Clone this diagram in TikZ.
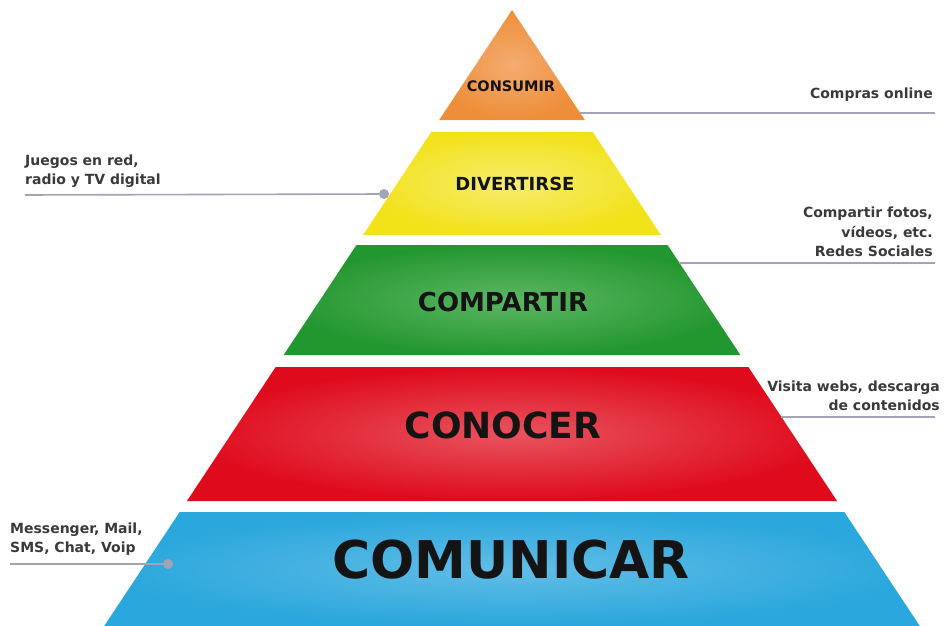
\documentclass[tikz,border=0pt]{standalone}
\usepackage{fontspec}
\setmainfont{DejaVu Sans}
\usetikzlibrary{calc}
\definecolor{cOrange}{HTML}{EE8E3A}
\definecolor{cOrangeL}{HTML}{F4AC70}
\definecolor{cYellow}{HTML}{F2E21A}
\definecolor{cYellowL}{HTML}{F6EC70}
\definecolor{cGreen}{HTML}{23972F}
\definecolor{cGreenL}{HTML}{5DB664}
\definecolor{cRed}{HTML}{DF0A1C}
\definecolor{cRedL}{HTML}{E8545F}
\definecolor{cBlue}{HTML}{2AA7DC}
\definecolor{cBlueL}{HTML}{62BDE6}
\definecolor{cLine}{HTML}{A3A3B6}
\definecolor{cText}{HTML}{3A3A3A}
\tikzset{
  layer/.style 2 args={shading=radial, inner color=#2, outer color=#1, draw=none},
  title/.style={font=\bfseries, text=black!92, inner sep=0pt, anchor=center},
  sidelbl/.style={font=\bfseries\fontsize{14}{19.5}\selectfont, text=cText, inner sep=0pt},
  conn/.style={draw=cLine, line width=1.6pt},
  dotpt/.style={circle, fill=cLine, inner sep=0pt, minimum size=10pt}
}
\newcommand{\hw}[1]{0.662*(#1-10)}
\begin{document}
\begin{tikzpicture}[x=1pt,y=-1pt]
\useasboundingbox (0,0) rectangle (945,626);
% layers
\shade[layer={cOrange}{cOrangeL}] (512,10) -- ({512+\hw{120}},120) -- ({512-\hw{120}},120) -- cycle;
\shade[layer={cYellow}{cYellowL}] ({512-\hw{132}},132) -- ({512+\hw{132}},132) -- ({512+\hw{235}},235) -- ({512-\hw{235}},235) -- cycle;
\shade[layer={cGreen}{cGreenL}] ({512-\hw{245}},245) -- ({512+\hw{245}},245) -- ({512+\hw{355}},355) -- ({512-\hw{355}},355) -- cycle;
\shade[layer={cRed}{cRedL}] ({512-\hw{367}},367) -- ({512+\hw{367}},367) -- ({512+\hw{501}},501) -- ({512-\hw{501}},501) -- cycle;
\shade[layer={cBlue}{cBlueL}] ({512-\hw{512}},512) -- ({512+\hw{512}},512) -- ({512+\hw{626}},626) -- ({512-\hw{626}},626) -- cycle;
% titles
\node[title, font=\bfseries\fontsize{14.5}{16}\selectfont] (consumir) at (511,86) {CONSUMIR};
\node[title, font=\bfseries\fontsize{18}{20}\selectfont] (divertirse) at (515,184) {DIVERTIRSE};
\node[title, font=\bfseries\fontsize{26}{28}\selectfont] (compartir) at (503,302) {COMPARTIR};
\node[title, font=\bfseries\fontsize{36}{38}\selectfont] (conocer) at (503,425) {CONOCER};
\node[title, font=\bfseries\fontsize{52}{54}\selectfont] (comunicar) at (511,560) {COMUNICAR};
% connector endpoints
\coordinate (c1a) at ({512+\hw{113}},113);
\coordinate (c1b) at (935,113);
\coordinate (c2a) at (25,195);
\node[dotpt] (d2) at (384,194) {};
\coordinate (c3a) at ({512+\hw{263}},263);
\coordinate (c3b) at (935,263);
\coordinate (c4a) at ({512+\hw{417}},417);
\coordinate (c4b) at (935,417);
\coordinate (c5a) at (10,564);
\node[dotpt] (d5) at (168,564) {};
\draw[conn] (c1a) -- (c1b);
\draw[conn] (c2a) -- (d2);
\draw[conn] (c3a) -- (c3b);
\draw[conn] (c4a) -- (c4b);
\draw[conn] (c5a) -- (d5);
% side labels
\node[sidelbl, anchor=base east] (l1) at (933,99) {Compras online};
\node[sidelbl, anchor=south west, align=left] (l2) at (25,188) {Juegos en red,\\radio y TV digital};
\node[sidelbl, anchor=south east, align=right] (l3) at (933,257) {Compartir fotos,\\vídeos, etc.\\Redes Sociales};
\node[sidelbl, anchor=south east, align=right] (l4) at (940,411) {Visita webs, descarga\\de contenidos};
\node[sidelbl, anchor=south west, align=left] (l5) at (10,556) {Messenger, Mail,\\SMS, Chat, Voip};
\end{tikzpicture}
\end{document}
